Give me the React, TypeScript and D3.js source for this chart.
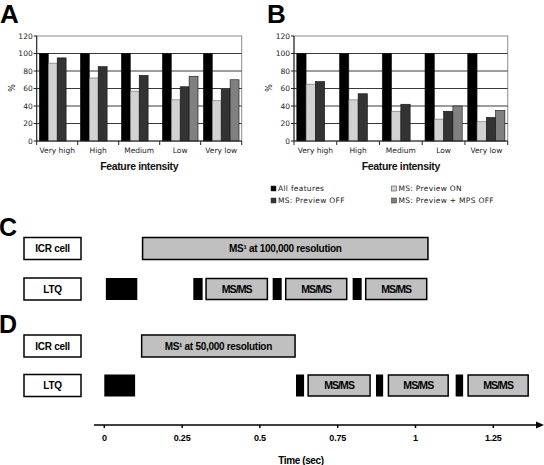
import React from "react";
import * as d3 from "d3";

const categories = ["Very high", "High", "Medium", "Low", "Very low"];
const seriesNames = ["All features", "MS: Preview ON", "MS: Preview OFF", "MS: Preview + MPS OFF"];
const seriesColors = ["#000000", "#d2d2d2", "#333333", "#808080"];

const allA = [100, 100, 100, 100, 100];
const onA = [89, 72, 57, 47, 46];
const offA = [95, 85, 75, 62, 59];
const mpsA: (number | null)[] = [null, null, null, 74, 70];

const allB = [100, 100, 100, 100, 100];
const onB = [65, 47, 34, 25, 22];
const offB = [68, 54, 42, 34, 27];
const mpsB: (number | null)[] = [null, null, null, 40, 35];

const yTicks = [0, 20, 40, 60, 80, 100, 120];
const timeTicks = [0, 0.25, 0.5, 0.75, 1, 1.25];
const timeTickLabels = ["0", "0.25", "0.5", "0.75", "1", "1.25"];

// schedule intervals in seconds
const ms1C = [0.123, 1.04];
const blackC = [[0.005, 0.106], [0.286, 0.316], [0.541, 0.57], [0.798, 0.827]];
const msmsC = [[0.327, 0.524], [0.583, 0.779], [0.84, 1.036]];
const ms1D = [0.12, 0.613];
const blackD = [[0, 0.099], [0.616, 0.642], [0.873, 0.896], [1.129, 1.153]];
const msmsD = [[0.655, 0.854], [0.913, 1.105], [1.169, 1.362]];

const axisFont = "'DejaVu Sans', Verdana, sans-serif";
const boldFont = "'Liberation Sans', Arial, sans-serif";

function BarPanel({ x0, x1, series }: { x0: number; x1: number; series: (number | null)[][] }) {
  const yTop = 36;
  const yBot = 141;
  const y = d3.scaleLinear().domain([0, 120]).range([yBot, yTop]);
  const xb = d3.scaleBand<string>().domain(categories).range([x0, x1]).padding(0);
  const xi = d3
    .scaleBand<string>()
    .domain(seriesNames)
    .range([0, xb.bandwidth()])
    .paddingInner(0)
    .paddingOuter(0.3);
  return (
    <g>
      <rect x={x0} y={yTop} width={x1 - x0} height={yBot - yTop} fill="none" stroke="#8a8a8a" strokeWidth={1} />
      {yTicks.slice(1, -1).map((t) => (
        <line key={t} x1={x0} x2={x1} y1={y(t)} y2={y(t)} stroke="#3a3a3a" strokeWidth={1} />
      ))}
      {categories.map((c, ci) =>
        seriesNames.map((s, si) => {
          const v = series[si][ci];
          if (v == null) return null;
          return (
            <rect
              key={c + s}
              x={(xb(c) as number) + (xi(s) as number)}
              y={y(v)}
              width={xi.bandwidth()}
              height={yBot - y(v)}
              fill={seriesColors[si]}
              stroke={si === 1 ? "#666" : "#111"}
              strokeWidth={0.6}
            />
          );
        })
      )}
      <line x1={x0} x2={x0} y1={yTop} y2={yBot} stroke="#222" strokeWidth={1} />
      <line x1={x0} x2={x1} y1={yBot} y2={yBot} stroke="#222" strokeWidth={1} />
      {yTicks.map((t) => (
        <g key={t}>
          <line x1={x0 - 3} x2={x0} y1={y(t)} y2={y(t)} stroke="#222" />
          <text x={x0 - 4} y={y(t)} dy="0.35em" textAnchor="end" fontSize={7.5} fontFamily={axisFont} fill="#222">
            {t}
          </text>
        </g>
      ))}
      {categories.map((c, ci) => (
        <g key={c}>
          <line
            x1={(xb(c) as number) + xb.bandwidth()}
            x2={(xb(c) as number) + xb.bandwidth()}
            y1={yBot}
            y2={yBot + 4}
            stroke="#222"
          />
          {ci === 0 && <line x1={x0} x2={x0} y1={yBot} y2={yBot + 4} stroke="#222" />}
          <text
            x={(xb(c) as number) + xb.bandwidth() / 2}
            y={153}
            textAnchor="middle"
            fontSize={7.5}
            fontFamily={axisFont}
            fill="#222"
          >
            {c}
          </text>
        </g>
      ))}
      <text
        x={(x0 + x1) / 2}
        y={169.5}
        textAnchor="middle"
        fontSize={10.5}
        fontWeight="bold"
        fontFamily={boldFont}
        letterSpacing={-0.35}
        fill="#111"
      >
        Feature intensity
      </text>
      <text
        transform={`translate(${x0 - 22},${88}) rotate(-90)`}
        textAnchor="middle"
        fontSize={8}
        fontFamily={axisFont}
        fill="#222"
      >
        %
      </text>
    </g>
  );
}

function Schedule({
  t,
  yIcr,
  yLtq,
  ms1,
  ms1Label,
  blacks,
  msms,
}: {
  t: d3.ScaleLinear<number, number>;
  yIcr: number;
  yLtq: number;
  ms1: number[];
  ms1Label: string;
  blacks: number[][];
  msms: number[][];
}) {
  const h = 22;
  const labelBox = (label: string, yy: number) => (
    <g>
      <rect x={24} y={yy} width={57} height={h} fill="#fff" stroke="#000" strokeWidth={1.5} />
      <text
        x={52.5}
        y={yy + h / 2}
        dy="0.35em"
        textAnchor="middle"
        fontSize={10}
        fontWeight="bold"
        fontFamily={boldFont}
        letterSpacing={-0.3}
      >
        {label}
      </text>
    </g>
  );
  return (
    <g>
      {labelBox("ICR cell", yIcr)}
      {labelBox("LTQ", yLtq)}
      <rect
        x={t(ms1[0])}
        y={yIcr}
        width={t(ms1[1]) - t(ms1[0])}
        height={h}
        fill="#c0c0c0"
        stroke="#000"
        strokeWidth={1.5}
      />
      <text
        x={(t(ms1[0]) + t(ms1[1])) / 2}
        y={yIcr + h / 2}
        dy="0.35em"
        textAnchor="middle"
        fontSize={10}
        fontWeight="bold"
        fontFamily={boldFont}
        letterSpacing={-0.3}
      >
        {ms1Label}
      </text>
      {blacks.map((b, i) => (
        <rect key={"b" + i} x={t(b[0])} y={yLtq} width={t(b[1]) - t(b[0])} height={h} fill="#000" />
      ))}
      {msms.map((m, i) => (
        <g key={"m" + i}>
          <rect
            x={t(m[0])}
            y={yLtq + 0.5}
            width={t(m[1]) - t(m[0])}
            height={h - 1}
            fill="#c0c0c0"
            stroke="#000"
            strokeWidth={1.5}
          />
          <text
            x={(t(m[0]) + t(m[1])) / 2}
            y={yLtq + h / 2}
            dy="0.35em"
            textAnchor="middle"
            fontSize={10.5}
            fontWeight="bold"
            fontFamily={boldFont}
            letterSpacing={-0.9}
          >
            MS/MS
          </text>
        </g>
      ))}
    </g>
  );
}

export default function App() {
  const t = d3.scaleLinear().domain([0, 1.25]).range([104.3, 493.3]);
  const legendItems = [
    { name: seriesNames[0], color: seriesColors[0], x: 271, y: 188.5 },
    { name: seriesNames[1], color: seriesColors[1], x: 391.5, y: 188.5 },
    { name: seriesNames[2], color: seriesColors[2], x: 271, y: 200.5 },
    { name: seriesNames[3], color: seriesColors[3], x: 391.5, y: 200.5 },
  ];
  const axisY = 425;
  return (
    <svg
      width={544}
      height={465}
      style={{ position: "absolute", left: 0, top: 0, background: "#fff" }}
      xmlns="http://www.w3.org/2000/svg"
    >
      <rect x={0} y={0} width={544} height={465} fill="#fff" />
      <text x={0} y={23} fontSize={26} fontWeight="bold" fontFamily={boldFont}>
        A
      </text>
      <text x={267} y={23} fontSize={26} fontWeight="bold" fontFamily={boldFont}>
        B
      </text>
      <BarPanel x0={36.7} x1={241.7} series={[allA, onA, offA, mpsA]} />
      <BarPanel x0={294} x1={507.7} series={[allB, onB, offB, mpsB]} />
      {legendItems.map((l) => (
        <g key={l.name}>
          <rect x={l.x} y={l.y - 2.5} width={5} height={5} fill={l.color} stroke="#333" strokeWidth={0.5} />
          <text x={l.x + 7} y={l.y} dy="0.35em" fontSize={7.5} fontFamily={axisFont} fill="#222" letterSpacing={0.3}>
            {l.name}
          </text>
        </g>
      ))}

      <text x={-1} y={236} fontSize={25} fontWeight="bold" fontFamily={boldFont}>
        C
      </text>
      <Schedule
        t={t}
        yIcr={237.5}
        yLtq={278}
        ms1={ms1C}
        ms1Label="MS¹ at 100,000 resolution"
        blacks={blackC}
        msms={msmsC}
      />
      <text x={-1} y={333} fontSize={25} fontWeight="bold" fontFamily={boldFont}>
        D
      </text>
      <Schedule
        t={t}
        yIcr={335}
        yLtq={374.5}
        ms1={ms1D}
        ms1Label="MS¹ at 50,000 resolution"
        blacks={blackD}
        msms={msmsD}
      />

      <line x1={94} x2={538} y1={axisY} y2={axisY} stroke="#000" strokeWidth={1.5} />
      <path d={`M544,${axisY} L536,${axisY - 3.5} L536,${axisY + 3.5} Z`} fill="#000" />
      {timeTicks.map((v, i) => (
        <g key={v}>
          <line x1={t(v)} x2={t(v)} y1={axisY} y2={axisY + 3} stroke="#000" strokeWidth={1.5} />
          <text
            x={t(v)}
            y={441}
            textAnchor="middle"
            fontSize={9}
            fontWeight="bold"
            fontFamily={boldFont}
            letterSpacing={-0.2}
          >
            {timeTickLabels[i]}
          </text>
        </g>
      ))}
      <text x={301} y={463.5} textAnchor="middle" fontSize={10} fontWeight="bold" fontFamily={boldFont} letterSpacing={-0.4}>
        Time (sec)
      </text>
    </svg>
  );
}
